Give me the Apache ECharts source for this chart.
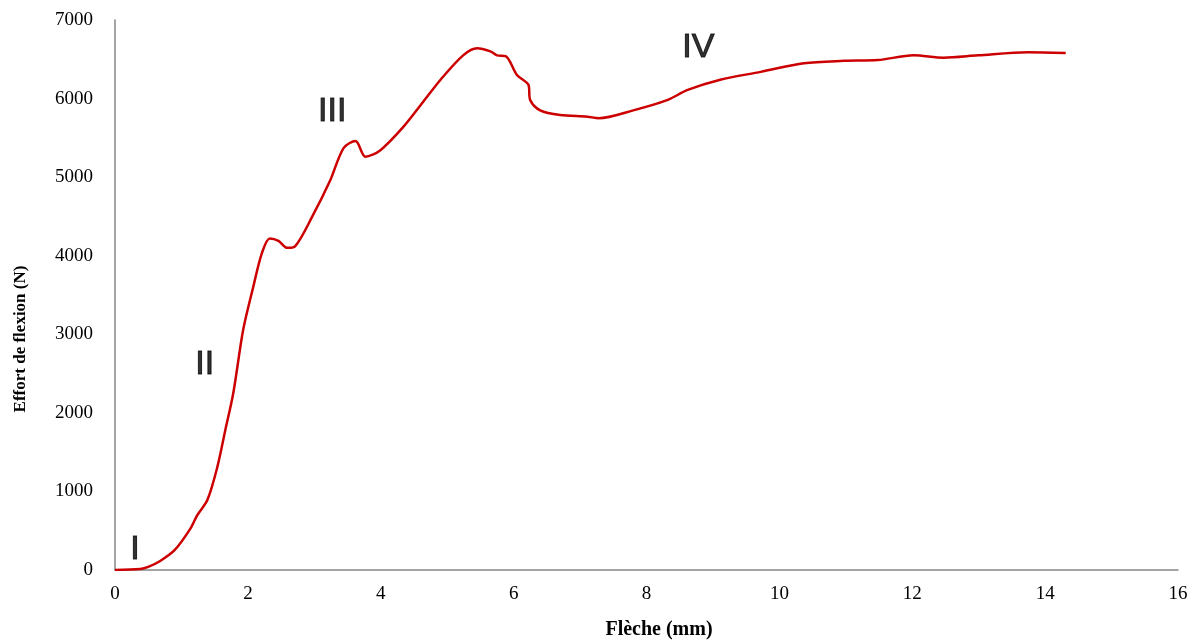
<!DOCTYPE html>
<html>
<head>
<meta charset="utf-8">
<script src="https://cdn.jsdelivr.net/npm/echarts@6/dist/echarts.min.js"></script>
<style>html,body{margin:0;padding:0;background:#fff}#c{width:1197px;height:640px}</style>
</head>
<body>
<div id="c"></div>
<script>
const fleche = [0, 0.38, 0.5, 0.68, 0.9, 1.13, 1.24, 1.39, 1.54, 1.66, 1.78, 1.93, 2.08, 2.21, 2.33, 2.46, 2.59, 2.71, 2.97, 3.24, 3.44, 3.62, 3.77, 3.99, 4.34, 4.64, 4.9, 5.24, 5.45, 5.65, 5.75, 5.88, 6.05, 6.22, 6.25, 6.4, 6.7, 7.11, 7.28, 7.8, 8.31, 8.62, 9.11, 9.72, 10.37, 10.97, 11.48, 12.02, 12.47, 12.99, 13.74, 14.31];
const effort = [0, 13, 40, 115, 255, 520, 700, 890, 1310, 1780, 2250, 3060, 3600, 4030, 4220, 4190, 4100, 4120, 4500, 4960, 5370, 5460, 5260, 5340, 5640, 5960, 6240, 6550, 6640, 6600, 6550, 6540, 6300, 6180, 5980, 5850, 5790, 5770, 5750, 5850, 5980, 6110, 6240, 6340, 6450, 6480, 6490, 6550, 6520, 6550, 6590, 6580];
const zoneLabels = ['I', 'II', 'III', 'IV'];
const zoneX = [0.3, 1.35, 3.27, 8.78];
const zoneY = [258, 2620, 5840, 6650];
const xTitle = 'Flèche (mm)';
const yTitle = 'Effort de flexion (N)';

const chart = echarts.init(document.getElementById('c'), null, {renderer: 'canvas'});
const serif = '"Liberation Serif", "Times New Roman", serif';
chart.setOption({
  animation: false,
  grid: {left: 115, right: 19, top: 20, bottom: 70, containLabel: false},
  xAxis: {
    type: 'value', min: 0, max: 16, interval: 2,
    axisLine: {show: true, lineStyle: {color: '#868686', width: 1.5}},
    axisTick: {show: false},
    splitLine: {show: false},
    axisLabel: {fontFamily: serif, fontSize: 19, color: '#000', margin: 15, formatter: v => String(v)}
  },
  yAxis: {
    type: 'value', min: 0, max: 7000, interval: 1000,
    axisLine: {show: true, lineStyle: {color: '#868686', width: 1.5}},
    axisTick: {show: false},
    splitLine: {show: false},
    axisLabel: {fontFamily: serif, fontSize: 19, color: '#000', margin: 22, formatter: v => String(v)}
  },
  graphic: [
    {type: 'text', x: 659, y: 630, style: {text: xTitle, font: 'bold 20px ' + serif, fill: '#000', align: 'center', verticalAlign: 'middle'}},
    {type: 'text', x: 21, y: 339, rotation: Math.PI / 2, style: {text: yTitle, font: 'bold 17px ' + serif, fill: '#000', align: 'center', verticalAlign: 'middle'}}
  ],
  series: [
    {
      type: 'line',
      data: fleche.map((x, i) => [x, effort[i]]),
      showSymbol: false,
      smooth: 0.3,
      lineStyle: {color: '#cc0000', width: 2.5}
    },
    {
      type: 'scatter',
      symbolSize: 0,
      silent: true,
      data: zoneX.map((x, i) => ({value: [x, zoneY[i]], name: zoneLabels[i]})),
      label: {
        show: true, position: 'inside', formatter: p => p.name,
        fontFamily: '"Liberation Sans", Arial, sans-serif', fontSize: 34, color: '#000',
        textBorderColor: '#000', textBorderWidth: 1
      }
    }
  ]
});
</script>
</body>
</html>
